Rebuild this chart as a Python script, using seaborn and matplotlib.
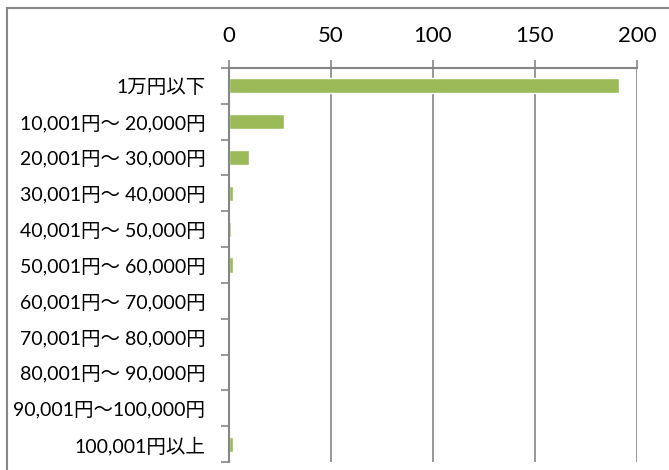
import matplotlib
matplotlib.use("Agg")
import matplotlib.pyplot as plt
import numpy as np
import pandas as pd
import seaborn as sns
from matplotlib.patches import Rectangle

categories = ["1万円以下", "10,001円～ 20,000円", "20,001円～ 30,000円",
              "30,001円～ 40,000円", "40,001円～ 50,000円", "50,001円～ 60,000円",
              "60,001円～ 70,000円", "70,001円～ 80,000円", "80,001円～ 90,000円",
              "90,001円～100,000円", "100,001円以上"]
counts = [191, 27, 10, 2, 1, 2, 0, 0, 0, 0, 2]
xticks = [0, 50, 100, 150, 200]

sns.set_theme(style="white")
plt.rcParams['font.family'] = ['Lato', 'Noto Sans CJK JP', 'DejaVu Sans']

df = pd.DataFrame({"range": categories, "count": counts})

W, H = 669, 470
fig = plt.figure(figsize=(W / 100, H / 100), dpi=100)
ax = fig.add_axes([229 / W, 1 - 462 / H, (637 - 229) / W, (462 - 68) / H])

sns.barplot(data=df, x="count", y="range", orient="h", color="#9BBB59",
            saturation=1, width=0.42, ax=ax)

grid = "#868686"
ax.set_xlim(0, 200)
ax.set_ylim(len(categories) - 0.5, -0.5)
ax.set_xticks(xticks)
ax.xaxis.tick_top()
ax.tick_params(axis="x", which="major", direction="out", length=6, width=1.2,
               color=grid, labelsize=16, pad=10, labelcolor="black")
ax.set_xlabel("")
ax.set_ylabel("")
ax.xaxis.grid(True, color=grid, linewidth=1.2)
ax.set_axisbelow(True)

# category ticks sit at the boundaries between bars
ax.set_yticks(np.arange(len(categories)))
ax.set_yticklabels(categories)
ax.set_yticks(np.arange(len(categories) + 1) - 0.5, minor=True)
ax.tick_params(axis="y", which="major", length=0, labelsize=14, pad=17,
               labelcolor="black")
ax.tick_params(axis="y", which="minor", direction="out", length=6, width=1.2,
               color=grid, left=True)

for side in ["right", "bottom"]:
    ax.spines[side].set_visible(False)
for side in ["left", "top"]:
    ax.spines[side].set_color(grid)
    ax.spines[side].set_linewidth(1.5)

# outer chart frame
fig.patches.append(Rectangle((7 / W, -0.1), 1.2, 1 - 8 / H + 0.1,
                             transform=fig.transFigure, fill=False,
                             edgecolor=grid, linewidth=1.5))

fig.savefig("out.png", dpi=100)
